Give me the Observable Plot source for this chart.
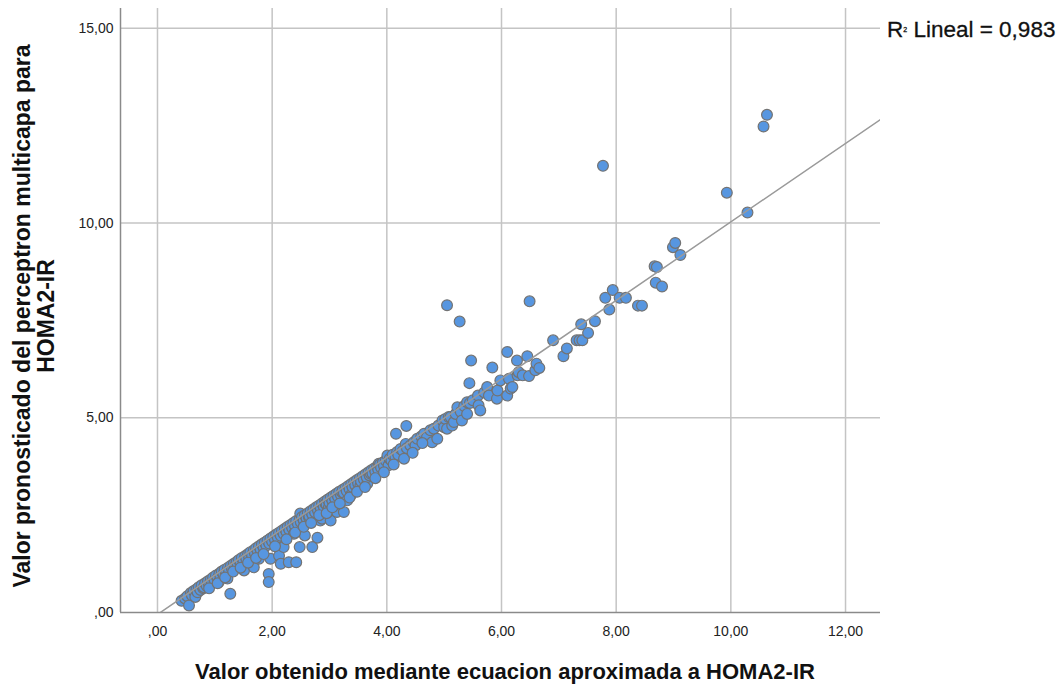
<!DOCTYPE html>
<html>
<head>
<meta charset="utf-8">
<script src="https://cdn.jsdelivr.net/npm/d3@7"></script>
<script src="https://cdn.jsdelivr.net/npm/@observablehq/plot@0.6"></script>
<style>
  html, body { margin: 0; padding: 0; background: #fff; }
  #chart svg { display: block; }
</style>
</head>
<body>
<div id="chart"></div>
<script>
// Observed pairs: [value from approximate equation, value predicted by multilayer perceptron]
const pairs = [
  [0.42,0.30],[0.48,0.36],[0.52,0.42],[0.55,0.18],[0.58,0.50],[0.60,0.44],[0.63,0.55],[0.66,0.40],
  [0.68,0.60],[0.70,0.52],[0.72,0.65],[0.75,0.58],[0.77,0.70],[0.80,0.62],[0.81,0.65],[0.83,0.75],
  [0.86,0.68],[0.88,0.80],[0.90,0.72],[0.93,0.85],[0.95,0.78],[0.97,0.90],[1.00,0.82],[1.02,0.95],
  [1.05,0.88],[1.07,0.78],[1.08,1.00],[1.10,0.92],[1.12,1.05],[1.15,0.98],[1.17,1.10],[1.20,1.02],
  [1.22,0.87],[1.23,1.15],[1.25,1.08],[1.27,0.48],[1.28,1.20],[1.30,1.12],[1.33,1.25],[1.35,1.18],
  [1.38,1.30],[1.40,1.22],[1.42,1.35],[1.45,1.27],[1.47,1.40],[1.50,1.32],[1.51,1.08],[1.53,1.45],
  [1.55,1.38],[1.58,1.50],[1.60,1.42],[1.62,1.55],[1.65,1.47],[1.68,1.16],[1.68,1.60],[1.70,1.52],
  [1.72,1.65],[1.75,1.57],[1.77,1.38],[1.77,1.70],[1.80,1.62],[1.82,1.75],[1.85,1.67],[1.87,1.80],
  [1.90,1.72],[1.92,1.85],[1.94,0.99],[1.94,0.78],[1.95,1.77],[1.97,1.38],[1.97,1.90],[2.00,1.82],
  [2.02,1.95],[2.05,1.87],[2.07,2.00],[2.10,1.92],[2.12,1.46],[2.12,2.05],[2.15,1.25],[2.15,1.97],
  [2.17,2.10],[2.20,1.68],[2.20,2.02],[2.22,2.15],[2.25,2.07],[2.27,2.20],[2.29,1.29],[2.30,2.12],
  [2.32,2.25],[2.35,2.17],[2.37,2.30],[2.38,2.02],[2.40,2.22],[2.42,1.29],[2.42,2.35],[2.45,2.27],
  [2.48,1.68],[2.48,2.40],[2.49,2.54],[2.50,2.32],[2.52,2.45],[2.55,2.37],[2.57,1.98],[2.57,2.50],
  [2.60,2.42],[2.62,2.55],[2.64,2.45],[2.65,2.47],[2.67,2.60],[2.70,1.68],[2.70,2.52],[2.72,2.65],
  [2.75,2.57],[2.77,2.70],[2.79,1.92],[2.80,2.62],[2.82,2.75],[2.84,2.36],[2.85,2.67],[2.87,2.41],
  [2.87,2.80],[2.90,2.72],[2.92,2.85],[2.93,2.79],[2.95,2.77],[2.97,2.90],[2.99,2.70],[3.00,2.82],
  [3.02,2.36],[3.02,2.62],[3.02,2.95],[3.05,2.87],[3.07,3.00],[3.10,2.62],[3.10,2.92],[3.12,3.05],
  [3.13,2.58],[3.15,2.97],[3.17,3.10],[3.20,3.02],[3.22,3.09],[3.23,3.15],[3.25,2.58],[3.25,3.07],
  [3.28,3.20],[3.30,3.12],[3.31,2.88],[3.33,3.25],[3.35,3.17],[3.37,3.01],[3.38,3.30],[3.40,3.22],
  [3.43,3.35],[3.45,3.27],[3.48,3.40],[3.50,3.32],[3.53,3.45],[3.54,3.26],[3.55,3.37],[3.58,3.50],
  [3.60,3.42],[3.63,3.55],[3.66,3.31],[3.65,3.47],[3.68,3.60],[3.70,3.52],[3.72,3.56],[3.73,3.65],
  [3.75,3.57],[3.78,3.70],[3.80,3.62],[3.83,3.75],[3.85,3.67],[3.86,3.82],[3.88,3.80],[3.90,3.72],
  [3.93,3.85],[3.95,3.77],[3.98,3.90],[4.01,4.03],[4.03,3.78],[4.05,3.95],[4.08,3.90],[4.10,4.05],
  [4.15,4.00],[4.16,4.59],[4.18,4.12],[4.20,4.05],[4.24,4.20],[4.28,4.15],[4.33,4.33],[4.34,4.79],
  [4.35,4.22],[4.41,4.29],[4.47,4.37],[4.50,4.29],[4.53,4.46],[4.60,4.52],[4.65,4.59],[4.70,4.50],
  [4.76,4.68],[4.79,4.37],[4.82,4.72],[4.88,4.46],[4.90,4.80],[4.97,4.93],[5.00,4.76],[5.02,4.97],
  [5.05,4.72],[5.05,7.89],[5.08,5.02],[5.11,5.02],[5.14,4.80],[5.17,4.89],[5.20,5.10],[5.23,5.27],
  [5.27,7.47],[5.29,5.15],[5.31,4.93],[5.35,5.30],[5.40,5.10],[5.40,5.40],[5.44,5.89],[5.45,5.38],
  [5.47,6.47],[5.50,5.45],[5.59,5.57],[5.60,5.32],[5.63,5.19],[5.70,5.65],[5.75,5.79],[5.78,5.57],
  [5.84,6.29],[5.92,5.49],[5.93,5.70],[5.98,5.96],[6.10,5.57],[6.10,6.69],[6.13,6.00],[6.16,5.75],
  [6.19,5.79],[6.27,6.47],[6.28,6.09],[6.30,6.17],[6.37,6.09],[6.45,6.58],[6.48,6.07],[6.49,7.99],
  [6.59,6.22],[6.61,6.39],[6.66,6.28],[6.90,6.99],[7.08,6.58],[7.14,6.78],[7.31,6.99],[7.36,6.99],
  [7.39,7.40],[7.41,6.99],[7.51,7.18],[7.63,7.48],[7.77,11.47],[7.81,8.08],[7.88,7.78],[7.94,8.28],
  [8.06,8.08],[8.17,8.08],[8.38,7.88],[8.45,7.88],[8.67,8.89],[8.71,8.87],[8.69,8.47],[8.80,8.37],
  [8.99,9.38],[9.03,9.49],[9.12,9.18],[9.93,10.78],[10.29,10.27],[10.57,12.48],[10.63,12.78],
  [0.90,0.62],[1.05,0.75],[1.18,0.90],[1.32,1.05],[1.45,1.15],[1.58,1.28],[1.72,1.40],[1.85,1.50],
  [2.05,1.70],[2.25,1.88],[2.40,2.05],[2.55,2.20],[2.68,2.30],[2.82,2.50],[2.95,2.55],[3.05,2.70],
  [3.18,2.80],[3.35,2.95],[3.48,3.10],[3.62,3.22],[3.80,3.45],[3.95,3.60],[4.12,3.80],[4.30,3.95],
  [4.45,4.10],[4.62,4.35]
];

// Linear fit reported in the chart
const fitIntercept = -0.05;
const fitSlope = 1.008;
const rSquaredText = "0,983";

// Axes
const xTicks = [0, 2, 4, 6, 8, 10, 12];
const xTickLabels = [",00", "2,00", "4,00", "6,00", "8,00", "10,00", "12,00"];
const yTicks = [0, 5, 10, 15];
const yTickLabels = [",00", "5,00", "10,00", "15,00"];
const xDomain = [-0.645, 12.61];
const yDomain = [0, 15.51];
const xTitle = "Valor obtenido mediante ecuacion aproximada a HOMA2-IR";
const yTitleLines = ["Valor pronosticado del perceptron multicapa para", "HOMA2-IR"];

const data = pairs.map(([x, y]) => ({x, y}));
const fitLine = [xDomain[0], xDomain[1]].map(x => ({x, y: fitIntercept + fitSlope * x}));

const font = "'Liberation Sans', Arial, sans-serif";

const plot = Plot.plot({
  width: 1061,
  height: 686,
  marginLeft: 120,
  marginRight: 181,
  marginTop: 8,
  marginBottom: 74,
  style: {fontFamily: font, fontSize: "14px", color: "#222", background: "#fff"},
  x: {domain: xDomain, label: null},
  y: {domain: yDomain, label: null},
  marks: [
    Plot.gridX(xTicks, {stroke: "#c4c4c4", strokeOpacity: 1, strokeWidth: 1.5}),
    Plot.gridY(yTicks.filter(d => d > 0), {stroke: "#c4c4c4", strokeOpacity: 1, strokeWidth: 1.5}),
    Plot.ruleX([xDomain[0]], {stroke: "#8a8a8a", strokeWidth: 1.5}),
    Plot.ruleY([0], {stroke: "#8a8a8a", strokeWidth: 1.5}),
    Plot.axisX(xTicks, {tickSize: 0, tickPadding: 14, tickFormat: (d, i) => xTickLabels[i], fontSize: 14, fill: "#222"}),
    Plot.axisY(yTicks, {tickSize: 0, tickPadding: 7, tickFormat: (d, i) => yTickLabels[i], fontSize: 14, fill: "#222"}),
    Plot.dot(data, {x: "x", y: "y", r: 5.4, fill: "#5796e0", stroke: "#737373", strokeWidth: 1.2, fillOpacity: 1}),
    Plot.line(fitLine, {x: "x", y: "y", stroke: "#9a9a9a", strokeWidth: 1.5, clip: true})
  ]
});

const svg = d3.select(plot);
svg.append("text")
  .attr("x", 505).attr("y", 679)
  .attr("text-anchor", "middle")
  .attr("font-family", font).attr("font-size", 22).attr("font-weight", "bold").attr("fill", "#111")
  .text(xTitle);

const yt = svg.append("text")
  .attr("transform", "translate(30,316) rotate(-90)")
  .attr("text-anchor", "middle")
  .attr("font-family", font).attr("font-size", 23).attr("font-weight", "bold").attr("fill", "#111");
yt.append("tspan").attr("x", 0).attr("y", 0).text(yTitleLines[0]);
yt.append("tspan").attr("x", 0).attr("y", 24).text(yTitleLines[1]);

const r2 = svg.append("text")
  .attr("x", 887).attr("y", 37)
  .attr("text-anchor", "start")
  .attr("font-family", font).attr("font-size", 22.5).attr("fill", "#111")
  .attr("stroke", "#111").attr("stroke-width", 0.3);
r2.append("tspan").text("R");
r2.append("tspan").attr("font-size", 7).attr("dy", -5).text("2");
r2.append("tspan").attr("dy", 5).text(" Lineal = " + rSquaredText);

document.getElementById("chart").appendChild(plot);
</script>
</body>
</html>
